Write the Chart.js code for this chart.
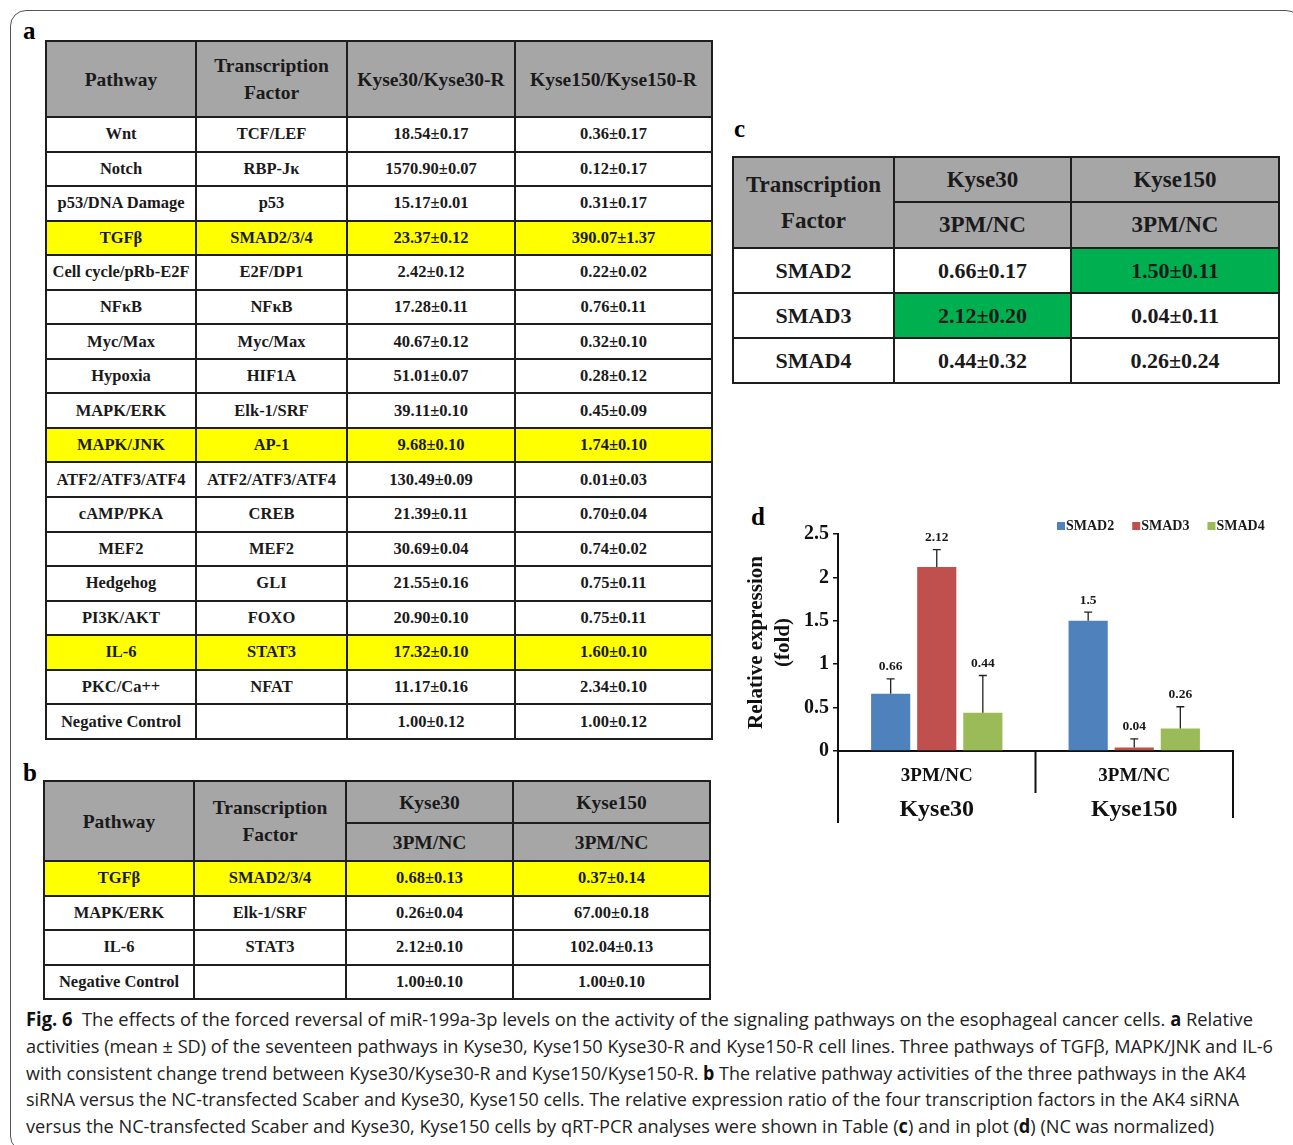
<!DOCTYPE html>
<html>
<head>
<meta charset="utf-8">
<script src="https://cdn.jsdelivr.net/npm/chart.js@4.4.1/dist/chart.umd.min.js"></script>
<style>
  html, body { margin: 0; padding: 0; background: #fff; }
  body { width: 1293px; height: 1145px; position: relative; overflow: hidden;
         font-family: "Liberation Serif", "Times New Roman", serif; color: #111; }
  .frame { position: absolute; left: 10px; top: 10px; width: 1292px; height: 1142px;
           border: 1px solid #555; border-radius: 16px; box-sizing: border-box; }
  .panel { position: absolute; font-weight: bold; font-size: 25px; line-height: 1; color: #000; }
  table { position: absolute; border-collapse: collapse; table-layout: fixed; font-weight: bold; }
  td { border: 2px solid #1e1e1e; text-align: center; vertical-align: middle; padding: 0;
       white-space: nowrap; overflow: hidden; color: #1a1a1a; }
  td.hd { background: #a6a6a6; }
  tr.hl td { background: #ffff00; }
  td.gr { background: #00b050; }
  #tabA { left: 45px; top: 40px; width: 666px; font-size: 16.5px; }
  #tabA td.hd { font-size: 19.5px; line-height: 27px; }
  #tabB { left: 43px; top: 780px; width: 666px; font-size: 16.5px; }
  #tabB td.hd { font-size: 19.5px; line-height: 27px; }
  #tabC { left: 732px; top: 156px; width: 546px; font-size: 22px; }
  #tabC td { border-width: 2px; }
  #tabC td.hd { line-height: 36px; font-size: 23px; }
  #chartBox { position: absolute; left: 740px; top: 500px; width: 550px; height: 330px; }
  #caption { position: absolute; left: 26px; top: 1006px; font-family: "Open Sans", "Noto Sans", sans-serif;
             font-size: 19px; color: #222; }
  #caption div { height: 26.8px; line-height: 26.8px; white-space: nowrap; transform-origin: 0 50%; }
  #caption b { font-weight: 700; color: #111; }
</style>
</head>
<body>
<div class="frame"></div>
<div class="panel" style="left:23px;top:18px;">a</div>
<div class="panel" style="left:23px;top:760px;">b</div>
<div class="panel" style="left:734px;top:116px;">c</div>
<div class="panel" style="left:751px;top:504px;">d</div>

<table id="tabA"></table>
<table id="tabB"></table>
<table id="tabC"></table>
<div id="chartBox"><canvas id="chartD"></canvas></div>
<div id="caption"></div>

<script>
// ---- Table a: pathway activities, parental vs resistant lines ----
const headersA = ['Pathway', 'Transcription<br>Factor', 'Kyse30/Kyse30-R', 'Kyse150/Kyse150-R'];
const pathwaysA = ['Wnt', 'Notch', 'p53/DNA Damage', 'TGFβ', 'Cell cycle/pRb-E2F', 'NFκB', 'Myc/Max',
  'Hypoxia', 'MAPK/ERK', 'MAPK/JNK', 'ATF2/ATF3/ATF4', 'cAMP/PKA', 'MEF2', 'Hedgehog', 'PI3K/AKT',
  'IL-6', 'PKC/Ca++', 'Negative Control'];
const factorsA = ['TCF/LEF', 'RBP-Jκ', 'p53', 'SMAD2/3/4', 'E2F/DP1', 'NFκB', 'Myc/Max', 'HIF1A',
  'Elk-1/SRF', 'AP-1', 'ATF2/ATF3/ATF4', 'CREB', 'MEF2', 'GLI', 'FOXO', 'STAT3', 'NFAT', ''];
const kyse30A = ['18.54±0.17', '1570.90±0.07', '15.17±0.01', '23.37±0.12', '2.42±0.12', '17.28±0.11',
  '40.67±0.12', '51.01±0.07', '39.11±0.10', '9.68±0.10', '130.49±0.09', '21.39±0.11', '30.69±0.04',
  '21.55±0.16', '20.90±0.10', '17.32±0.10', '11.17±0.16', '1.00±0.12'];
const kyse150A = ['0.36±0.17', '0.12±0.17', '0.31±0.17', '390.07±1.37', '0.22±0.02', '0.76±0.11',
  '0.32±0.10', '0.28±0.12', '0.45±0.09', '1.74±0.10', '0.01±0.03', '0.70±0.04', '0.74±0.02',
  '0.75±0.11', '0.75±0.11', '1.60±0.10', '2.34±0.10', '1.00±0.12'];
const highlighted = ['TGFβ', 'MAPK/JNK', 'IL-6'];

// ---- Table b: AK4 siRNA vs NC ----
const pathwaysB = ['TGFβ', 'MAPK/ERK', 'IL-6', 'Negative Control'];
const factorsB = ['SMAD2/3/4', 'Elk-1/SRF', 'STAT3', ''];
const kyse30B = ['0.68±0.13', '0.26±0.04', '2.12±0.10', '1.00±0.10'];
const kyse150B = ['0.37±0.14', '67.00±0.18', '102.04±0.13', '1.00±0.10'];
const highlightedB = ['TGFβ'];

// ---- Table c / plot d: SMAD expression ratios ----
const cellLines = ['Kyse30', 'Kyse150'];
const ratioLabel = '3PM/NC';
const smadNames = ['SMAD2', 'SMAD3', 'SMAD4'];
const kyse30C = ['0.66±0.17', '2.12±0.20', '0.44±0.32'];
const kyse150C = ['1.50±0.11', '0.04±0.11', '0.26±0.24'];
const greenC = [[false, true], [true, false], [false, false]];

const smad2Values = [0.66, 1.5];
const smad3Values = [2.12, 0.04];
const smad4Values = [0.44, 0.26];
const smad2Errors = [0.17, 0.10];
const smad3Errors = [0.20, 0.10];
const smad4Errors = [0.43, 0.25];
const yTicks = [0, 0.5, 1, 1.5, 2, 2.5];
const smadColors = ['#4f81bd', '#c0504d', '#9bbb59'];

// ---- build tables ----
function colgroup(widths) {
  return '<colgroup>' + widths.map(w => `<col style="width:${w}px">`).join('') + '</colgroup>';
}

(function buildA() {
  let h = colgroup([150, 151, 168, 197]);
  h += '<tr style="height:76px">' + headersA.map(t => `<td class="hd">${t}</td>`).join('') + '</tr>';
  pathwaysA.forEach((p, i) => {
    const cls = highlighted.includes(p) ? ' class="hl"' : '';
    h += `<tr${cls} style="height:34.55px"><td>${p}</td><td>${factorsA[i]}</td><td>${kyse30A[i]}</td><td>${kyse150A[i]}</td></tr>`;
  });
  document.getElementById('tabA').innerHTML = h;
})();

(function buildB() {
  let h = colgroup([150, 152, 167, 197]);
  h += '<tr style="height:42px"><td class="hd" rowspan="2">Pathway</td><td class="hd" rowspan="2">Transcription<br>Factor</td>' +
       `<td class="hd">${cellLines[0]}</td><td class="hd">${cellLines[1]}</td></tr>`;
  h += `<tr style="height:38px"><td class="hd">${ratioLabel}</td><td class="hd">${ratioLabel}</td></tr>`;
  pathwaysB.forEach((p, i) => {
    const cls = highlightedB.includes(p) ? ' class="hl"' : '';
    h += `<tr${cls} style="height:34.5px"><td>${p}</td><td>${factorsB[i]}</td><td>${kyse30B[i]}</td><td>${kyse150B[i]}</td></tr>`;
  });
  document.getElementById('tabB').innerHTML = h;
})();

(function buildC() {
  let h = colgroup([161, 177, 208]);
  h += '<tr style="height:45px"><td class="hd" rowspan="2">Transcription<br>Factor</td>' +
       `<td class="hd">${cellLines[0]}</td><td class="hd">${cellLines[1]}</td></tr>`;
  h += `<tr style="height:46px"><td class="hd">${ratioLabel}</td><td class="hd">${ratioLabel}</td></tr>`;
  smadNames.forEach((s, i) => {
    const g = greenC[i];
    h += `<tr style="height:45px"><td>${s}</td><td${g[0] ? ' class="gr"' : ''}>${kyse30C[i]}</td><td${g[1] ? ' class="gr"' : ''}>${kyse150C[i]}</td></tr>`;
  });
  document.getElementById('tabC').innerHTML = h;
})();

// ---- caption ----
const captionLines = [
  '<b>Fig. 6</b>&nbsp; The effects of the forced reversal of miR-199a-3p levels on the activity of the signaling pathways on the esophageal cancer cells. <b>a</b> Relative',
  'activities (mean ± SD) of the seventeen pathways in Kyse30, Kyse150 Kyse30-R and Kyse150-R cell lines. Three pathways of TGFβ, MAPK/JNK and IL-6',
  'with consistent change trend between Kyse30/Kyse30-R and Kyse150/Kyse150-R. <b>b</b> The relative pathway activities of the three pathways in the AK4',
  'siRNA versus the NC-transfected Scaber and Kyse30, Kyse150 cells. The relative expression ratio of the four transcription factors in the AK4 siRNA',
  'versus the NC-transfected Scaber and Kyse30, Kyse150 cells by qRT-PCR analyses were shown in Table (<b>c</b>) and in plot (<b>d</b>) (NC was normalized)'
];
const captionWidths = [1227, 1247, 1220, 1213, 1188];
(function buildCaption() {
  const box = document.getElementById('caption');
  captionLines.forEach((t, i) => {
    const d = document.createElement('div');
    const s = document.createElement('span');
    s.innerHTML = t;
    d.appendChild(s);
    box.appendChild(d);
    const w = s.getBoundingClientRect().width;
    d.style.transform = `scaleX(${captionWidths[i] / w})`;
  });
})();

// ---- plot d ----
const serif = '"Liberation Serif", "Times New Roman", serif';
const errorSets = [smad2Errors, smad3Errors, smad4Errors];

const errorBarPlugin = {
  id: 'errorBars',
  afterDatasetsDraw(chart) {
    const { ctx } = chart;
    const y = chart.scales.y;
    chart.data.datasets.forEach((ds, di) => {
      const meta = chart.getDatasetMeta(di);
      meta.data.forEach((bar, i) => {
        const v = ds.data[i];
        const top = y.getPixelForValue(v + errorSets[di][i]);
        ctx.save();
        ctx.strokeStyle = '#222';
        ctx.lineWidth = 1.3;
        ctx.beginPath();
        ctx.moveTo(bar.x, bar.y);
        ctx.lineTo(bar.x, top);
        ctx.moveTo(bar.x - 4, top);
        ctx.lineTo(bar.x + 4, top);
        ctx.stroke();
        ctx.fillStyle = '#1a1a1a';
        ctx.font = 'bold 13.5px ' + serif;
        ctx.textAlign = 'center';
        ctx.textBaseline = 'middle';
        ctx.fillText(String(v), bar.x, top - 12);
        ctx.restore();
      });
    });
  }
};

const groupAxisPlugin = {
  id: 'groupAxis',
  afterDraw(chart) {
    const { ctx } = chart;
    const x = chart.scales.x;
    const half = (x.getPixelForValue(1) - x.getPixelForValue(0)) / 2;
    const base = chart.chartArea.bottom;
    ctx.save();
    ctx.strokeStyle = '#111';
    ctx.lineWidth = 2;
    const bounds = [x.getPixelForValue(0) - half, x.getPixelForValue(0) + half, x.getPixelForValue(1) + half];
    const depth = [72, 42, 67];
    bounds.forEach((bx, k) => {
      ctx.beginPath();
      ctx.moveTo(bx, base);
      ctx.lineTo(bx, base + depth[k]);
      ctx.stroke();
    });
    ctx.fillStyle = '#111';
    ctx.font = 'bold 24px ' + serif;
    ctx.textAlign = 'center';
    ctx.textBaseline = 'middle';
    cellLines.forEach((name, i) => ctx.fillText(name, x.getPixelForValue(i), base + 59));
    // legend, right-aligned above plot
    ctx.font = 'bold 14px ' + serif;
    ctx.textAlign = 'left';
    let lx = 317;
    chart.data.datasets.forEach(ds => {
      ctx.fillStyle = ds.backgroundColor;
      ctx.fillRect(lx, 22, 8, 8);
      ctx.fillStyle = '#1a1a1a';
      ctx.fillText(ds.label, lx + 9, 26.5);
      lx += 9 + ctx.measureText(ds.label).width + 18;
    });
    ctx.restore();
  }
};

new Chart(document.getElementById('chartD'), {
  type: 'bar',
  data: {
    labels: cellLines,
    datasets: [
      { label: smadNames[0], data: smad2Values, backgroundColor: smadColors[0] },
      { label: smadNames[1], data: smad3Values, backgroundColor: smadColors[1] },
      { label: smadNames[2], data: smad4Values, backgroundColor: smadColors[2] }
    ]
  },
  options: {
    responsive: true,
    maintainAspectRatio: false,
    animation: false,
    layout: { padding: { left: 0, top: 34, right: 57, bottom: 0 } },
    categoryPercentage: 0.7,
    barPercentage: 0.85,
    plugins: { legend: { display: false }, tooltip: { enabled: false } },
    scales: {
      x: {
        grid: { display: false, drawTicks: false },
        border: { display: true, color: '#111', width: 2 },
        ticks: { callback: () => ratioLabel, padding: 14, color: '#111',
                 font: { family: serif, size: 19, weight: 700 } },
        afterFit: s => { s.height = 79; }
      },
      y: {
        min: 0, max: 2.5,
        afterBuildTicks: s => { s.ticks = yTicks.map(v => ({ value: v })); },
        grid: { display: true, drawOnChartArea: false, drawTicks: true, tickLength: 5, color: '#111', lineWidth: 1.5 },
        border: { display: true, color: '#111', width: 2 },
        ticks: { padding: 4, color: '#111', callback: v => String(v),
                 font: { family: serif, size: 20, weight: 700 } },
        title: { display: true, text: ['Relative expression', '(fold)'], color: '#111',
                 padding: { top: 3, bottom: 0 },
                 font: { family: serif, size: 21, weight: 700, lineHeight: 1.3 } },
        afterFit: s => { s.width = 98; }
      }
    }
  },
  plugins: [errorBarPlugin, groupAxisPlugin]
});
</script>
</body>
</html>
